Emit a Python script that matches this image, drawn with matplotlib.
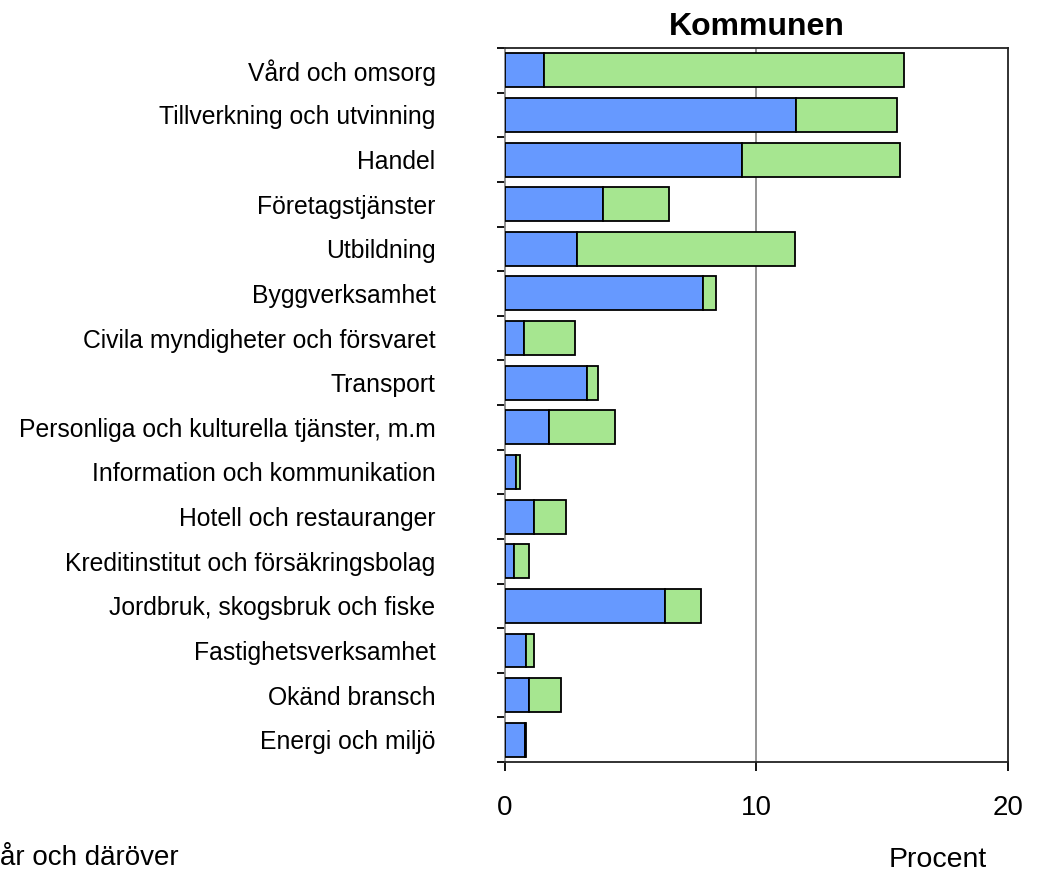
import matplotlib
matplotlib.use("Agg")
import matplotlib.pyplot as plt
import numpy as np

plt.rcParams['font.family'] = ['Liberation Sans', 'DejaVu Sans']

# Branscher, uppifrån och ned
branscher = [
    "Vård och omsorg",
    "Tillverkning och utvinning",
    "Handel",
    "Företagstjänster",
    "Utbildning",
    "Byggverksamhet",
    "Civila myndigheter och försvaret",
    "Transport",
    "Personliga och kulturella tjänster, m.m",
    "Information och kommunikation",
    "Hotell och restauranger",
    "Kreditinstitut och försäkringsbolag",
    "Jordbruk, skogsbruk och fiske",
    "Fastighetsverksamhet",
    "Okänd bransch",
    "Energi och miljö",
]
# procent, män (blå) och kvinnor (grön)
man = [1.55, 11.58, 9.44, 3.91, 2.86, 7.89, 0.77, 3.25, 1.76, 0.44, 1.17, 0.37, 6.36, 0.85, 0.97, 0.78]
kvinnor = [14.30, 3.99, 6.26, 2.60, 8.67, 0.51, 2.03, 0.46, 2.60, 0.14, 1.24, 0.60, 1.43, 0.32, 1.24, 0.06]

blue = "#6699FF"
green = "#A6E690"

fig = plt.figure(figsize=(10.42, 8.71), dpi=100)
ax = fig.add_axes([0.4846, 0.1251, 0.4827, 0.8198])

y = np.arange(len(branscher))
ax.barh(y, man, height=0.76, color=blue, edgecolor="black", linewidth=1.3, zorder=3)
ax.barh(y, kvinnor, left=man, height=0.76, color=green, edgecolor="black", linewidth=1.3, zorder=3)

ax.set_xlim(0, 20)
ax.set_ylim(len(branscher) - 0.5, -0.5)
ax.axvline(10, color="#808080", linewidth=1.2, zorder=1)

ax.set_yticks(y)
ax.set_yticklabels(branscher, fontsize=17.8)
ax.tick_params(axis="y", which="major", length=0, pad=50)
ax.set_yticks(np.arange(-0.5, len(branscher)), minor=True)
ax.tick_params(axis="y", which="minor", length=6, width=1.3, direction="out")

ax.set_xticks([0, 10, 20])
ax.set_xticklabels(["0", "10", "20"], fontsize=20)
ax.tick_params(axis="x", length=6.5, width=1.3, direction="out", pad=17)

for s in ax.spines.values():
    s.set_linewidth(1.3)
    s.set_color("#222222")
ax.spines["left"].set_color("#888888")

ax.set_title("Kommunen", fontsize=23, fontweight="bold", pad=9)
fig.text(0.900, 0.005, "Procent", fontsize=20.5, ha="center", va="baseline")
fig.text(0.0, 0.007, "år och däröver", fontsize=20, ha="left", va="baseline")

fig.savefig("out.png", dpi=100)
